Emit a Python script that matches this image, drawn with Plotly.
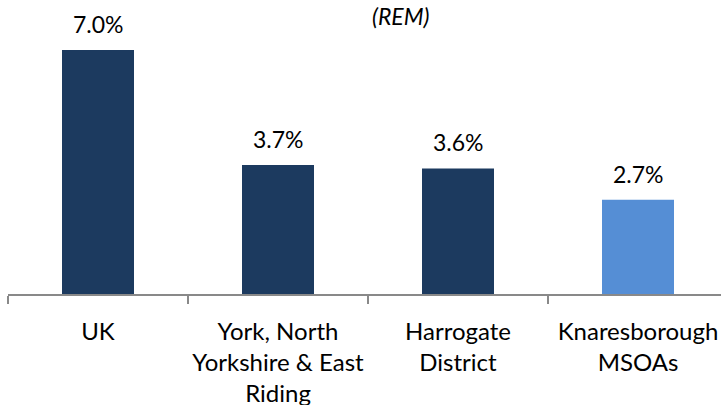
import plotly.graph_objects as go

categories = ["UK", "York, North<br>Yorkshire & East<br>Riding", "Harrogate<br>District", "Knaresborough<br>MSOAs"]
values = [7.0, 3.7, 3.6, 2.7]
value_labels = ["7.0%", "3.7%", "3.6%", "2.7%"]
bar_colors = ["#1c3a5f", "#1c3a5f", "#1c3a5f", "#558ed5"]
title_text = "(REM)"

FONT = "Lato, Calibri, Carlito, sans-serif"

fig = go.Figure()
fig.add_trace(go.Bar(
    x=categories, y=values, marker=dict(color=bar_colors, line=dict(width=0)),
    width=0.4, hoverinfo="skip",
))

for c, v, t in zip(categories, values, value_labels):
    fig.add_annotation(x=c, y=v, text=t, showarrow=False, yanchor="middle", yshift=26,
                       font=dict(family=FONT, size=23, color="#000000"))

fig.add_annotation(xref="paper", yref="paper", x=(401 - 8) / 713, y=1.0, yanchor="middle", yshift=-1,
                   text=title_text, showarrow=False,
                   font=dict(family=FONT, size=23, color="#000000", style="italic"))

fig.update_layout(
    width=721, height=405,
    margin=dict(l=8, r=0, t=15, b=111, autoexpand=False),
    paper_bgcolor="white", plot_bgcolor="white",
    showlegend=False,
    font=dict(family=FONT, size=24, color="#000000"),
    xaxis=dict(
        type="category", range=[-0.5, -0.5 + 713 / 180], tickson="boundaries",
        showline=True, linecolor="#898989", linewidth=2,
        ticks="outside", ticklen=8, tickwidth=2, tickcolor="#898989",
        ticklabelstandoff=15, tickangle=0, automargin=False,
        showgrid=False, tickfont=dict(family=FONT, size=24, color="#000000"),
        fixedrange=True,
    ),
    yaxis=dict(range=[0, 8], visible=False, showgrid=False, fixedrange=True, automargin=False),
)

fig.write_html("out.html", config={"displayModeBar": False})

with open("out.html", "r", encoding="utf-8") as f:
    html = f.read()
html = html.replace("<body>", '<body style="margin:0;padding:0;overflow:hidden">', 1)
with open("out.html", "w", encoding="utf-8") as f:
    f.write(html)
